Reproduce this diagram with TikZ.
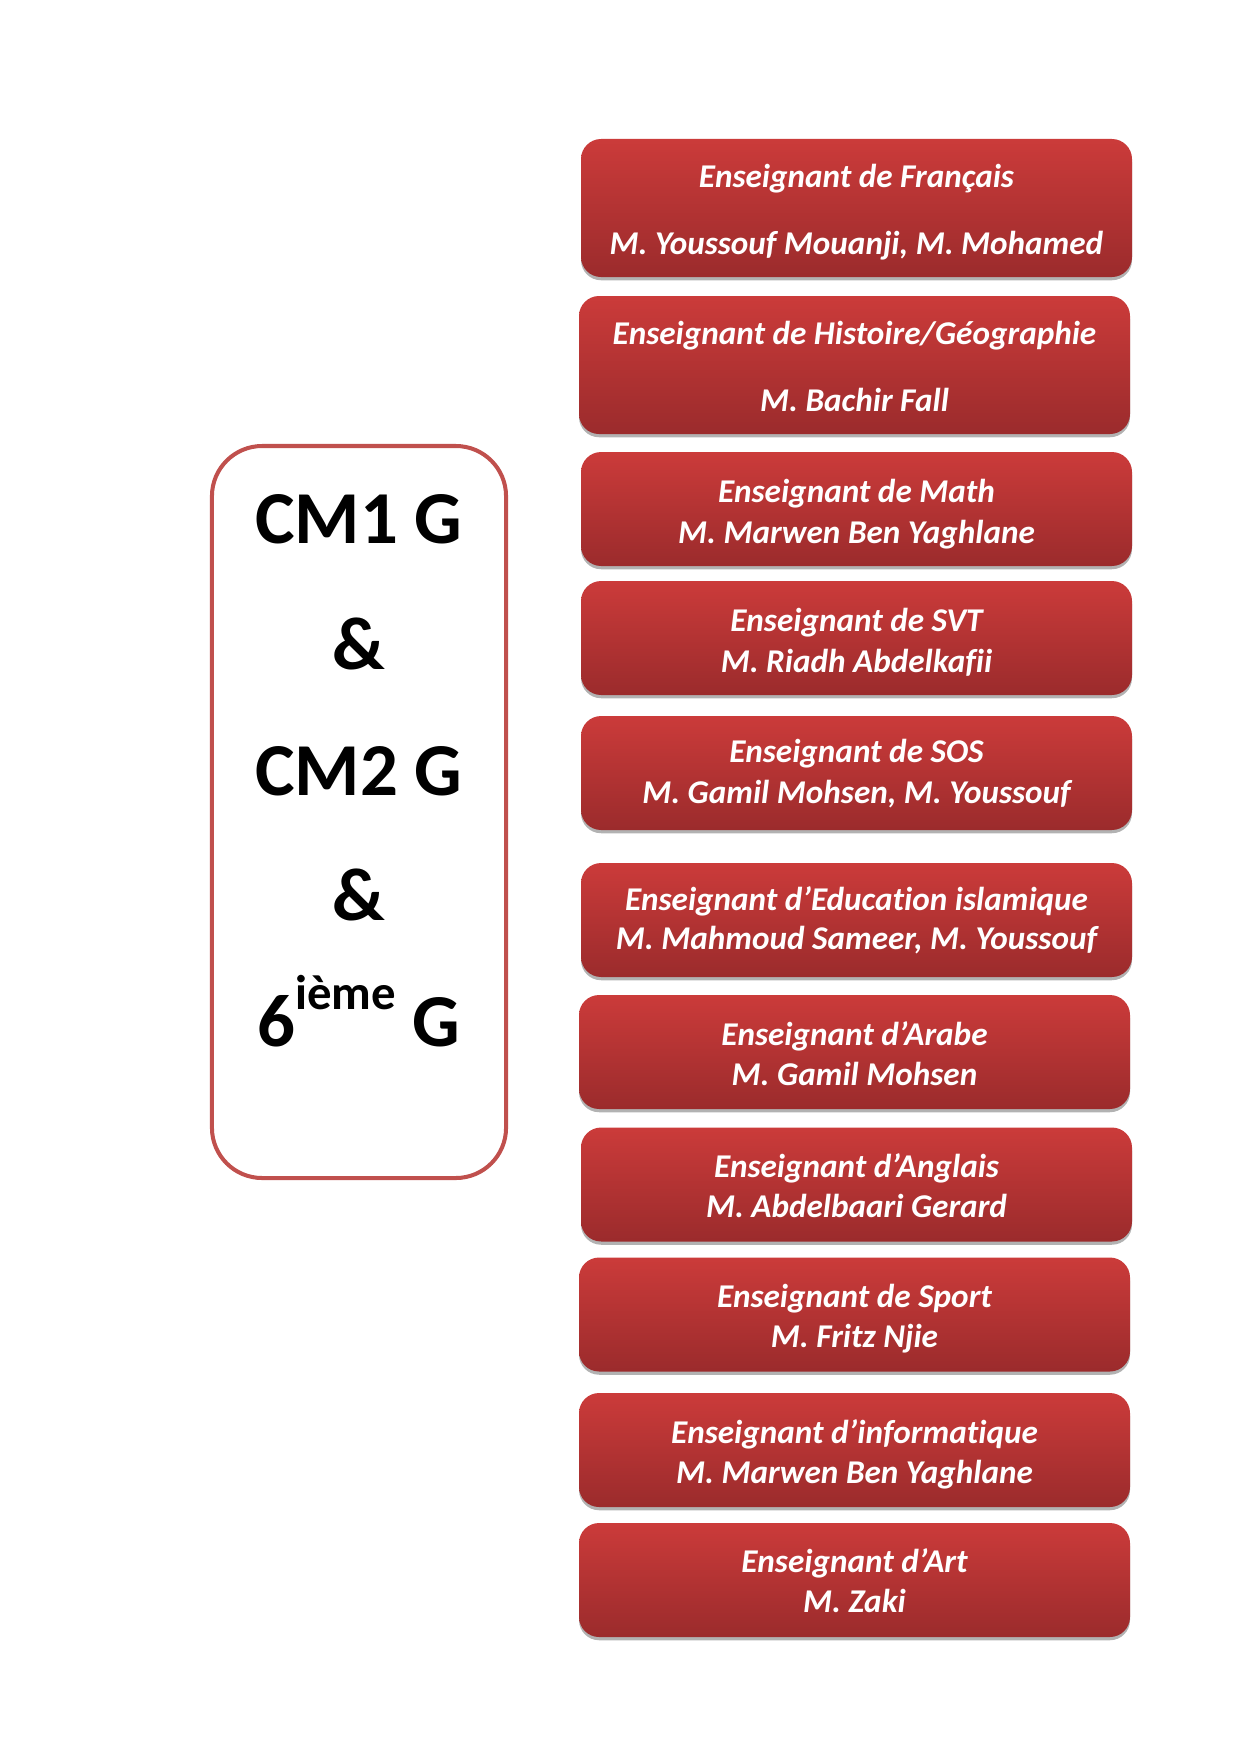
\documentclass[tikz,border=0pt]{standalone}
\usepackage{fontspec}
\setmainfont{Carlito}[Ligatures=CommonOff]
\usetikzlibrary{shadows}
\definecolor{boxtop}{RGB}{203,59,58}
\definecolor{boxbot}{RGB}{155,43,44}
\definecolor{frameclr}{RGB}{192,80,77}
\begin{document}
\begin{tikzpicture}[x=0.16933mm,y=-0.16933mm,
  teacher/.style={rectangle, rounded corners=3.4mm, top color=boxtop, bottom color=boxbot,
    draw=none, inner sep=0pt, minimum width=93.3mm,
    drop shadow={shadow xshift=0pt, shadow yshift=-0.55mm, opacity=0.3, fill=black}},
  tallbox/.style={minimum height=23.37mm},
  shortbox/.style={minimum height=19.3mm},
  ttxt/.style={anchor=base, text=white, inner sep=0pt, yshift=-1pt,
    font=\fontsize{16}{19.5}\selectfont\bfseries\itshape},
  classbox/.style={rectangle, draw=frameclr, line width=0.68mm, rounded corners=8.5mm,
    fill=white, minimum width=49.8mm, minimum height=123.95mm, inner sep=0pt},
  classtxt/.style={anchor=base, font=\fontsize{36}{40}\selectfont\bfseries, inner sep=0pt}]
\useasboundingbox (0,0) rectangle (1241,1754);

\node[classbox] (cls) at (359,812) {};
\node[classtxt] (l1) at (359,543) {CM1 G};
\node[classtxt] (l2) at (359,669) {\&};
\node[classtxt] (l3) at (359,795) {CM2 G};
\node[classtxt] (l4) at (359,920) {\&};
\node[classtxt] (l5) at (359,1046) {6\raisebox{17.5pt}{\fontsize{23.5}{24}\selectfont ième} G};

\node[teacher, tallbox] (fr) at (856.5,208) {};
\node[ttxt] (fra) at (856.5,185.5) {Enseignant de Français};
\node[ttxt] (frb) at (856.5,252.5) {M. Youssouf Mouanji, M. Mohamed};

\node[teacher, tallbox] (hg) at (854.5,365) {};
\node[ttxt] (hga) at (854.5,342) {Enseignant de Histoire/Géographie};
\node[ttxt] (hgb) at (854.5,409) {M. Bachir Fall};

\node[teacher, shortbox] (ma) at (856.5,509) {};
\node[ttxt] (maa) at (856.5,500) {Enseignant de Math};
\node[ttxt] (mab) at (856.5,541) {M. Marwen Ben Yaghlane};

\node[teacher, shortbox] (svt) at (856.5,638) {};
\node[ttxt] (svta) at (856.5,629) {Enseignant de SVT};
\node[ttxt] (svtb) at (856.5,670) {M. Riadh Abdelkafii};

\node[teacher, shortbox] (sos) at (856.5,773) {};
\node[ttxt] (sosa) at (856.5,760) {Enseignant de SOS};
\node[ttxt] (sosb) at (856.5,801) {M. Gamil Mohsen, M. Youssouf};

\node[teacher, shortbox] (isl) at (856.5,920) {};
\node[ttxt] (isla) at (856.5,908) {Enseignant d’Education islamique};
\node[ttxt] (islb) at (856.5,947) {M. Mahmoud Sameer, M. Youssouf};

\node[teacher, shortbox] (ar) at (854.5,1052) {};
\node[ttxt] (ara) at (854.5,1043) {Enseignant d’Arabe};
\node[ttxt] (arb) at (854.5,1083) {M. Gamil Mohsen};

\node[teacher, shortbox] (an) at (856.5,1184.5) {};
\node[ttxt] (ana) at (856.5,1175) {Enseignant d’Anglais};
\node[ttxt] (anb) at (856.5,1215) {M. Abdelbaari Gerard};

\node[teacher, shortbox] (sp) at (854.5,1314.5) {};
\node[ttxt] (spa) at (854.5,1305) {Enseignant de Sport};
\node[ttxt] (spb) at (854.5,1345) {M. Fritz Njie};

\node[teacher, shortbox] (inf) at (854.5,1450) {};
\node[ttxt] (infa) at (854.5,1441) {Enseignant d’informatique};
\node[ttxt] (infb) at (854.5,1481) {M. Marwen Ben Yaghlane};

\node[teacher, shortbox] (art) at (854.5,1580) {};
\node[ttxt] (arta) at (854.5,1570) {Enseignant d’Art};
\node[ttxt] (artb) at (854.5,1610) {M. Zaki};
\end{tikzpicture}
\end{document}
